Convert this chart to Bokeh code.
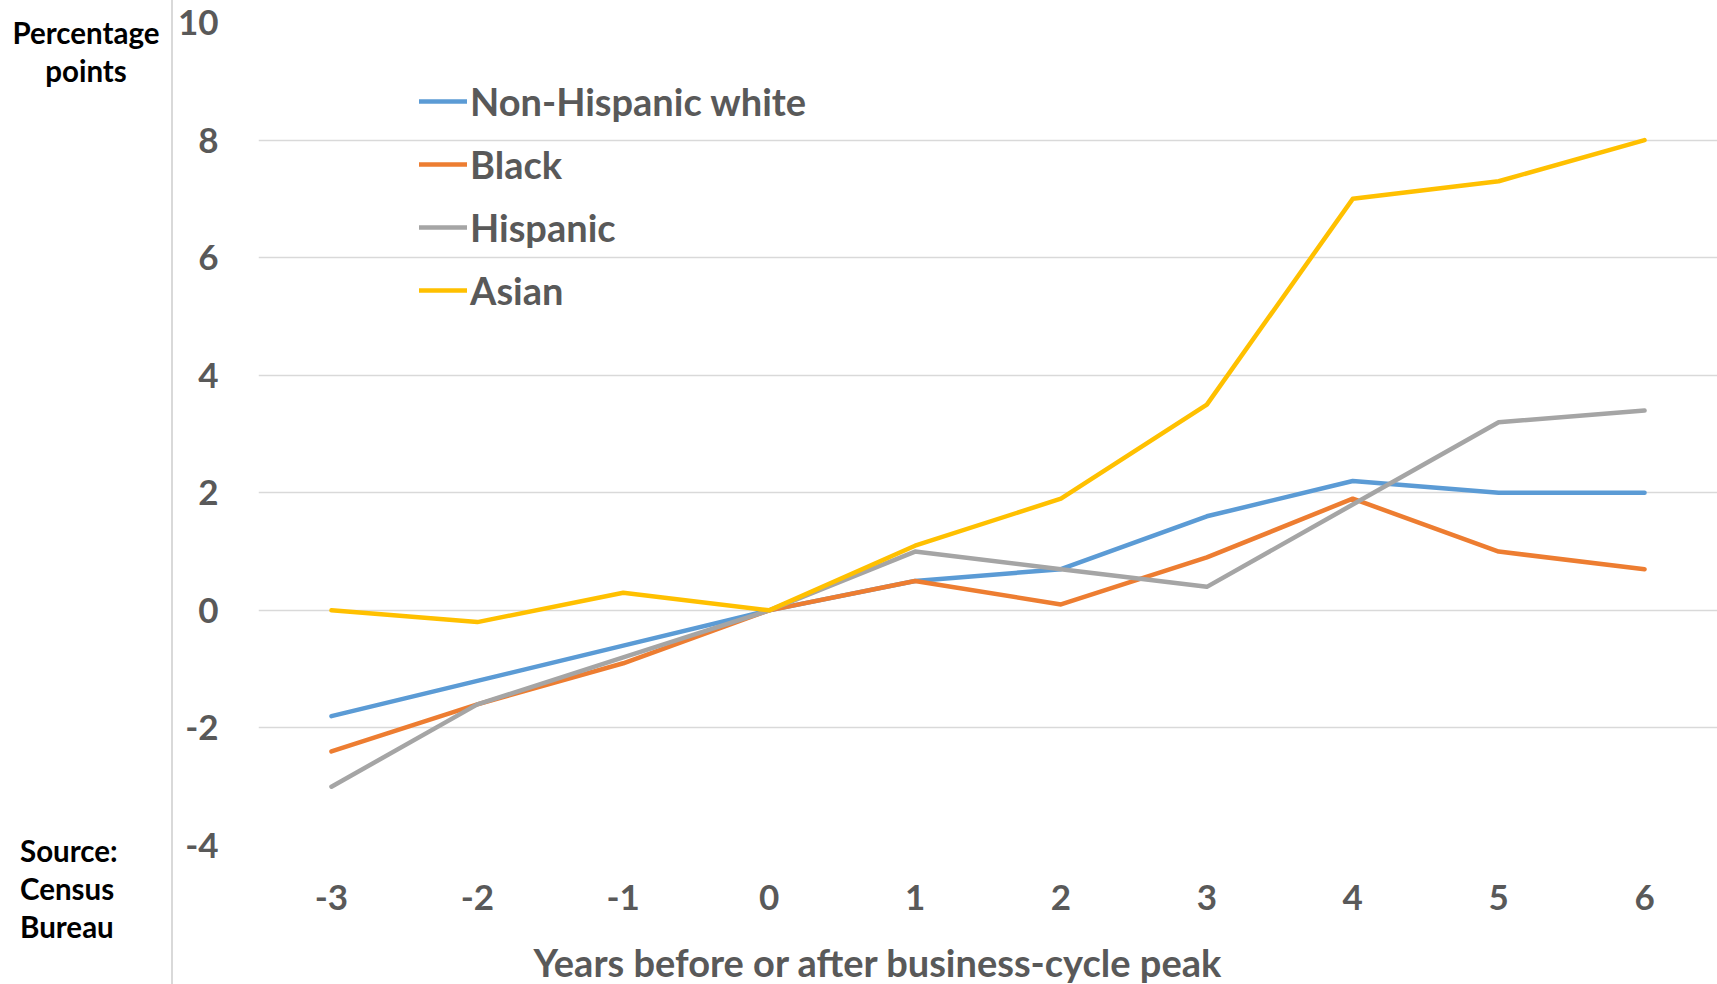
from bokeh.plotting import figure
from bokeh.models import (Range1d, FixedTicker, Legend, LegendItem, Title, Div,
                          ColumnDataSource)
from bokeh.layouts import row
from bokeh.embed import file_html
from bokeh.resources import INLINE

# ---- data ----
years = [-3, -2, -1, 0, 1, 2, 3, 4, 5, 6]
non_hispanic_white = [-1.8, -1.2, -0.6, 0.0, 0.5, 0.7, 1.6, 2.2, 2.0, 2.0]
black = [-2.4, -1.6, -0.9, 0.0, 0.5, 0.1, 0.9, 1.9, 1.0, 0.7]
hispanic = [-3.0, -1.6, -0.8, 0.0, 1.0, 0.7, 0.4, 1.8, 3.2, 3.4]
asian = [0.0, -0.2, 0.3, 0.0, 1.1, 1.9, 3.5, 7.0, 7.3, 8.0]
series_names = ["Non-Hispanic white", "Black", "Hispanic", "Asian"]
series_colors = ["#5B9BD5", "#ED7D31", "#A5A5A5", "#FFC000"]
y_ticks = [-4, -2, 0, 2, 4, 6, 8, 10]

FONT = "Lato"
GREY = "#595959"

# ---- left panel (side notes + divider line) ----
txt_style = "position:absolute;font-family:Lato;font-weight:bold;font-size:29.5px;line-height:38px;color:#000;"
left_html = (
    '<div style="position:relative;width:173px;height:984px;">'
    '<div style="position:absolute;left:171px;top:0;width:1.5px;height:984px;background:#d9d9d9;"></div>'
    f'<div style="{txt_style}left:0;width:172px;top:14px;text-align:center;">Percentage<br>points</div>'
    f'<div style="{txt_style}left:20px;top:832px;text-align:left;">Source:<br>Census<br>Bureau</div>'
    '</div>'
)
left = Div(text=left_html, width=173, height=984, styles={"margin": "0", "padding": "0"})

# ---- main chart ----
p = figure(width=1544, height=984, x_range=Range1d(-3.5, 6.5), y_range=Range1d(-4, 10),
           output_backend="svg", toolbar_location=None,
           min_border_left=85, min_border_right=0, min_border_top=22, min_border_bottom=138,
           outline_line_color=None)

src = ColumnDataSource(dict(year=years, white=non_hispanic_white, black=black,
                            hispanic=hispanic, asian=asian))
renderers = []
for col, color in zip(["white", "black", "hispanic", "asian"], series_colors):
    r = p.line("year", col, source=src, line_color=color, line_width=4.5,
               line_cap="round", line_join="round")
    renderers.append(r)

p.xgrid.visible = False
p.ygrid.grid_line_color = "#d9d9d9"
p.ygrid.grid_line_width = 1.5

p.yaxis.ticker = FixedTicker(ticks=y_ticks)
p.yaxis.major_label_overrides = {t: str(t) for t in y_ticks}
p.xaxis.ticker = FixedTicker(ticks=years)
p.xaxis.major_label_overrides = {t: str(t) for t in years}
for ax in (p.xaxis, p.yaxis):
    ax.axis_line_color = None
    ax.major_tick_line_color = None
    ax.minor_tick_line_color = None
    ax.major_label_text_font = FONT
    ax.major_label_text_font_style = "bold"
    ax.major_label_text_font_size = "35px"
    ax.major_label_text_color = GREY
p.yaxis.major_label_standoff = 34
p.xaxis.major_label_standoff = 33

# spacer, then the x-axis title (offset so it sits where the reference has it)
p.add_layout(Title(text=" ", text_font_size="1px", standoff=21), "below")
p.add_layout(Title(text="Years before or after business-cycle peak", align="left", offset=275,
                   standoff=0, text_font=FONT, text_font_style="bold", text_font_size="38px",
                   text_color=GREY), "below")

legend = Legend(items=[LegendItem(label=n, renderers=[r]) for n, r in zip(series_names, renderers)],
                location=(161, 532), label_text_font=FONT, label_text_font_style="bold",
                label_text_font_size="38px", label_text_color=GREY, glyph_width=48,
                glyph_height=40, label_height=40, label_standoff=3, spacing=17, padding=0,
                margin=0, border_line_color=None, background_fill_alpha=0)
p.add_layout(legend)

layout = row(left, p)
open("out.html", "w").write(file_html(layout, INLINE))
